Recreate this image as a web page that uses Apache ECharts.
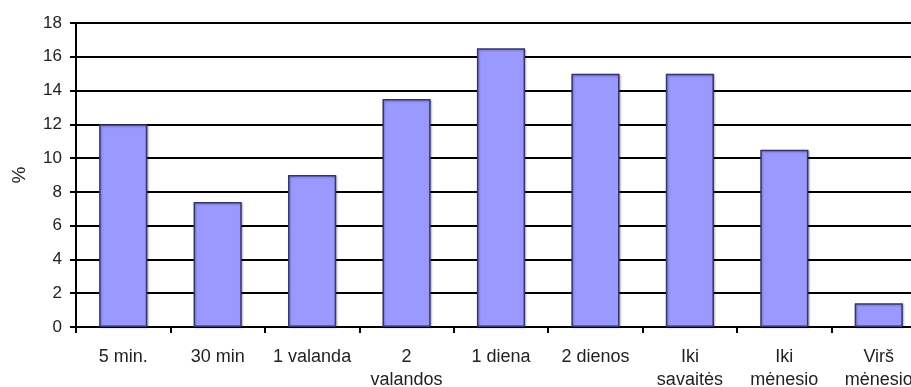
<!DOCTYPE html>
<html><head><meta charset="utf-8">
<script src="https://cdn.jsdelivr.net/npm/echarts@6/dist/echarts.min.js"></script>
<style>html,body{margin:0;padding:0;background:#fff}#c{width:911px;height:387px}</style>
</head><body><div id="c"></div>
<script>
const categories = ["5 min.", "30 min", "1 valanda", "2\nvalandos", "1 diena", "2 dienos", "Iki\nsavaitės", "Iki\nmėnesio", "Virš\nmėnesio"];
const values = [12, 7.4, 9, 13.5, 16.5, 15, 15, 10.5, 1.4];
const yTicks = [0, 2, 4, 6, 8, 10, 12, 14, 16, 18];

const chart = echarts.init(document.getElementById('c'), null, {renderer: 'canvas'});
chart.setOption({
  animation: false,
  backgroundColor: '#fff',
  grid: {left: 76, width: 850, top: 23, height: 304, containLabel: false, outerBoundsMode: 'none'},
  xAxis: {
    type: 'category', data: categories,
    axisLine: {lineStyle: {color: '#000', width: 2}},
    axisTick: {show: true, length: 6, lineStyle: {color: '#000', width: 2}},
    axisLabel: {color: '#222', fontFamily: 'Liberation Sans, Arial', fontSize: 18, margin: 19, lineHeight: 23, interval: 0}
  },
  yAxis: {
    type: 'value', min: yTicks[0], max: yTicks[yTicks.length - 1], interval: 2,
    name: '%', nameLocation: 'middle', nameGap: 47, nameRotate: 90,
    nameTextStyle: {color: '#222', fontFamily: 'Liberation Sans, Arial', fontSize: 19},
    axisLine: {show: true, lineStyle: {color: '#000', width: 2}},
    axisTick: {show: true, length: 6, lineStyle: {color: '#000', width: 2}},
    axisLabel: {color: '#222', fontFamily: 'Liberation Sans, Arial', fontSize: 17, margin: 14},
    splitLine: {lineStyle: {color: '#000', width: 2}}
  },
  series: [{
    type: 'bar', data: values, barCategoryGap: '49%',
    itemStyle: {color: '#9999ff', borderColor: '#34346e', borderWidth: 1.5,
      shadowColor: 'rgba(0,0,0,0.25)', shadowBlur: 2, shadowOffsetX: 1, shadowOffsetY: 1}
  }]
});
</script></body></html>
